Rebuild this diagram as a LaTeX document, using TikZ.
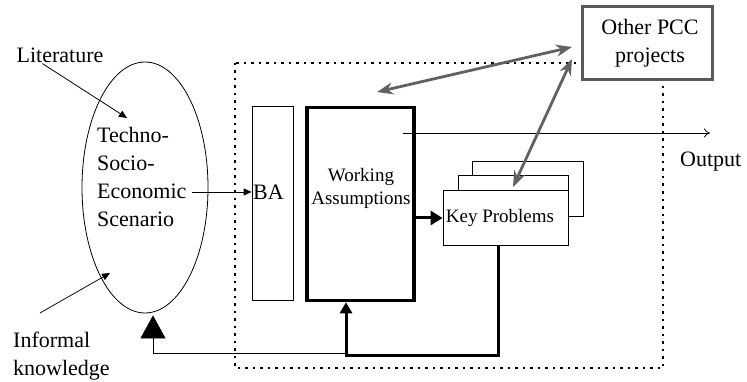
\documentclass[tikz,border=0pt]{standalone}
\usepackage{fontspec}
\setmainfont{Liberation Serif}
\usetikzlibrary{shapes.geometric,arrows.meta,calc}

\tikzset{
	lbl/.style={font=\fontsize{22}{28}\selectfont, inner sep=0pt},
	smalllbl/.style={font=\fontsize{19}{23}\selectfont, inner sep=0pt, align=center},
	plainbox/.style={draw, line width=0.8pt, fill=white, inner sep=0pt},
	link/.style={line width=0.8pt, -{Triangle[length=8pt,width=7pt]}},
	heavy/.style={line width=3pt},
	exchange/.style={black!62, line width=2.8pt, {Stealth[length=16pt,width=12pt]}-{Stealth[length=16pt,width=12pt]}}
}

\begin{document}
\begin{tikzpicture}[x=1pt, y=-1pt]
	\useasboundingbox (0,0) rectangle (747,382);
	% scenario
	\node [draw, ellipse, line width=0.8pt, minimum width=126, minimum height=251, inner sep=0pt] (scen) at (145,187.5) {};
	\node [lbl, align=left, anchor=west] (scentext) at (97,177) {Techno-\\Socio-\\Economic\\Scenario};
	\node [lbl] (lit) at (60,55) {Literature};
	\node [lbl, align=left, anchor=north west] (inf) at (13,332) {Informal\\knowledge};
	\coordinate (litin) at (127,118);
	\coordinate (infout) at (40,313);
	\coordinate (infin) at (110,273);
	\coordinate (econ) at (192,192);
	\draw [link] ($(lit.south west)+(26,1)$) -- (litin);
	\draw [link] (infout) -- (infin);
	%\draw (235,63) rectangle (663,368);
	\draw [line width=1.4pt, dash pattern=on 2.5pt off 5pt] (235,63) rectangle (663,368);
	% boxes
	\node [plainbox, minimum width=41, minimum height=194] (ba) at (272.5,203) {};
	\node [lbl, anchor=west] (batext) at (253,192) {BA};
	\node [draw, fill=white, line width=3.5pt, minimum width=107, minimum height=193, inner sep=0pt] (wa) at (360.5,204) {};
	\node [smalllbl] (watext) at (361,188.5) {Working\\Assumptions};
	\node [plainbox, minimum width=111, minimum height=55] (kpback) at (527.5,188.5) {};
	\node [plainbox, minimum width=110, minimum height=50] (kpmid) at (513,200) {};
	\node [plainbox, minimum width=125, minimum height=55] (kp) at (505.5,217.5) {};
	\node [smalllbl] (kptext) at (500,218) {Key Problems};
	\node [draw=black!65, fill=white, line width=3pt, minimum width=130, minimum height=73, inner sep=0pt] (pcc) at (647,43.5) {};
	\node [lbl, align=center] (pcctext) at (650,43) {Other PCC\\projects};
	% output
	\coordinate (outstart) at (403,133);
	\coordinate (outend) at (710,133);
	\draw [line width=0.8pt, -{To[length=6pt,width=9pt]}] (outstart) -- (outend);
	\node [lbl, anchor=west] (out) at (680,162) {Output};
	% links
	\draw [link] (econ) -- ($(ba.west)+(0,-11)$);
	\draw [heavy, -{Triangle[length=12pt,width=14pt]}] ($(wa.east)+(0,14)$) -- ($(kp.west)+(0,0.5)$);
	\coordinate (fb) at (346,355);
	\draw [heavy, -{Triangle[length=11pt,width=12pt]}] ($(kp.south)+(-7.5,0)$) |- (fb) -- ($(wa.south)+(-14.5,0)$);
	\draw [line width=0.8pt, -{Triangle[length=23pt,width=25pt]}] ($(fb)+(0,-2)$) -| ($(scen.south)+(8,2)$);
	% exchanges
	\coordinate (wain) at (377,92);
	\coordinate (pccl) at (572,47);
	\coordinate (pccb) at (572,59);
	\coordinate (kpin) at (513,187);
	\draw [exchange] (wain) -- (pccl);
	\draw [exchange] (pccb) -- (kpin);
\end{tikzpicture}
\end{document}
